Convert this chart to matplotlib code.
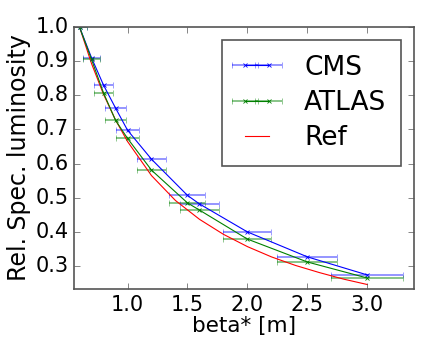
import numpy as np
import matplotlib
matplotlib.use("Agg")
import matplotlib.pyplot as plt

plt.style.use('classic')

# Data
beta = [0.6, 0.7, 0.8, 0.9, 1.0, 1.2, 1.5, 1.6, 2.0, 2.5, 3.0]
cms = [1.0, 0.91, 0.83, 0.763, 0.698, 0.613, 0.507, 0.482, 0.40, 0.327, 0.274]
atlas = [1.0, 0.905, 0.807, 0.727, 0.674, 0.581, 0.485, 0.464, 0.379, 0.312, 0.265]
beta_err = [0.06, 0.07, 0.08, 0.09, 0.10, 0.12, 0.15, 0.16, 0.20, 0.25, 0.30]

ref_beta = [0.6, 0.7, 0.8, 0.9, 1.0, 1.2, 1.4, 1.6, 1.8, 2.0, 2.2, 2.4, 2.6, 2.8, 3.0]
ref_val = [1.0, 0.893, 0.803, 0.728, 0.665, 0.565, 0.492, 0.437, 0.393, 0.357,
           0.327, 0.302, 0.281, 0.262, 0.246]

xticks = [1.0, 1.5, 2.0, 2.5, 3.0]
yticks = [0.3, 0.4, 0.5, 0.6, 0.7, 0.8, 0.9, 1.0]

fs = 15
fig = plt.figure(figsize=(4.36, 3.42), dpi=100, facecolor='white')
ax = fig.add_axes([0.170, 0.155, 0.780, 0.766])

h1 = ax.errorbar(beta, cms, xerr=beta_err, color='b', ecolor=(0, 0, 1, 0.45),
                 marker='x', ms=3, mew=0.6, lw=0.8, elinewidth=1.3, capsize=2.5,
                 label='CMS')
h2 = ax.errorbar(beta, atlas, xerr=beta_err, color='g', ecolor=(0, 0.5, 0, 0.5),
                 marker='x', ms=3, mew=0.6, lw=0.8, elinewidth=1.3, capsize=2.5,
                 label='ATLAS')
h3, = ax.plot(ref_beta, ref_val, color='r', lw=0.8, label='Ref')

ax.set_xlim(0.555, 3.39)
ax.set_ylim(0.233, 1.0)
ax.set_xticks(xticks)
ax.set_yticks(yticks)
ax.tick_params(labelsize=fs, direction='in', length=4, color='#555555')
for s in ax.spines.values():
    s.set_color('#555555')
    s.set_linewidth(1.2)

ax.set_xlabel('beta* [m]', fontsize=15.5, labelpad=1)
ax.set_ylabel('Rel. Spec. luminosity', fontsize=17, labelpad=3)

leg = ax.legend([h1, h2, h3], ['CMS', 'ATLAS', 'Ref'], loc='upper right',
                fontsize=19, numpoints=2, handlelength=1.5,
                handletextpad=1.05, labelspacing=0.35, borderpad=0.55,
                borderaxespad=0.5, fancybox=False)
leg.get_frame().set_edgecolor('#555555')
leg.get_frame().set_linewidth(1.2)

fig.savefig('out.png', dpi=100, facecolor='white')
